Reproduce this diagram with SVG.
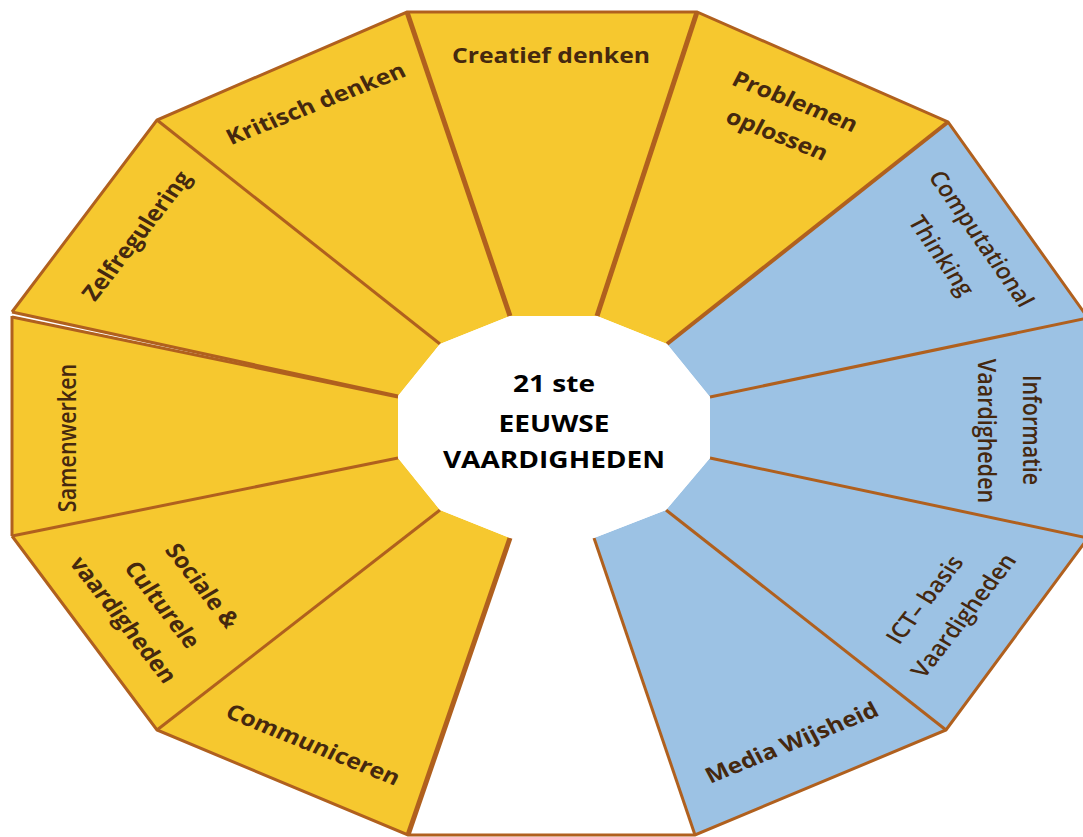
<svg xmlns="http://www.w3.org/2000/svg" width="1083" height="837" viewBox="0 0 1083 837">
  <style>
    .yellow { fill: #F6C82F; stroke: none; }
    .blue { fill: #9CC2E4; stroke: none; }
    .empty { fill: #FFFFFF; stroke: none; }
    .edge { fill: none; stroke: #B0601E; stroke-width: 3; stroke-linejoin: miter; }
    .thick { stroke-width: 5; }
    .label { font-family: "Open Sans", "Noto Sans", "DejaVu Sans", sans-serif; font-size: 21.5px; font-weight: 700; fill: #45280F; text-anchor: middle; }
    .semi { font-weight: 600; }
    .title { font-family: "Open Sans", "Noto Sans", "DejaVu Sans", sans-serif; font-size: 23px; font-weight: 700; fill: #000000; text-anchor: middle; }
  </style>

  <rect width="1083" height="837" fill="#FFFFFF"/>

  <!-- ring segments: outer corner pairs joined to the inner dodecagon -->
  <g id="creatief-denken">
    <polygon class="yellow" points="407,12 697,12 597,316 510,316"/>
    <text class="label" transform="translate(551,63) scale(1.15,1)" x="0" y="0" fill="#5A3511">Creatief denken</text>
  </g>

  <g id="problemen-oplossen">
    <polygon class="yellow" points="697,12 948,122 667,344 597,316"/>
    <text class="label" transform="translate(795,102) scale(1.15,1) rotate(24.4)" x="0" y="7">Problemen</text>
    <text class="label" transform="translate(777,135) scale(1.15,1) rotate(24.4)" x="0" y="7">oplossen</text>
  </g>

  <g id="computational-thinking">
    <polygon class="blue" points="948,122 1088,318 710,397 667,344"/>
    <text class="label semi" transform="translate(981,239) scale(1.15,1) rotate(58.7)" x="0" y="7">Computational</text>
    <text class="label semi" transform="translate(941,256) scale(1.15,1) rotate(58.7)" x="0" y="7">Thinking</text>
  </g>

  <g id="informatie-vaardigheden">
    <polygon class="blue" points="1088,318 1088,538 710,458 710,397"/>
    <text class="label semi" transform="translate(1031,430) scale(1.15,1) rotate(90)" x="0" y="7">Informatie</text>
    <text class="label semi" transform="translate(986,431) scale(1.15,1) rotate(90)" x="0" y="7">Vaardigheden</text>
  </g>

  <g id="ict-basis-vaardigheden">
    <polygon class="blue" points="1088,538 946,730 666,510 710,458"/>
    <text class="label semi" transform="translate(925,600) scale(1.15,1) rotate(-55.8)" x="0" y="7">ICT– basis</text>
    <text class="label semi" transform="translate(964,616) scale(1.15,1) rotate(-55.8)" x="0" y="7">Vaardigheden</text>
  </g>

  <g id="media-wijsheid">
    <polygon class="blue" points="946,730 695,835 594,538 666,510"/>
    <text class="label" transform="translate(792,743) scale(1.15,1) rotate(-24.9)" x="0" y="7">Media Wijsheid</text>
  </g>

  <g id="open-segment">
    <polygon class="empty" points="695,835 408,835 510,538 594,538"/>
  </g>

  <g id="communiceren">
    <polygon class="yellow" points="408,835 157,730 440,510 510,538"/>
    <text class="label" transform="translate(313,745) scale(1.15,1) rotate(24.9)" x="0" y="7">Communiceren</text>
  </g>

  <g id="sociale-culturele-vaardigheden">
    <polygon class="yellow" points="157,730 12,536 398,458 440,510"/>
    <text class="label" transform="translate(202,586) scale(1.15,1) rotate(55.8)" x="0" y="7">Sociale &amp;</text>
    <text class="label" transform="translate(162,605) scale(1.15,1) rotate(55.8)" x="0" y="7">Culturele</text>
    <text class="label" transform="translate(123,620) scale(1.15,1) rotate(55.8)" x="0" y="7">vaardigheden</text>
  </g>

  <g id="samenwerken">
    <polygon class="yellow" points="12,536 12,316 398,396 398,458"/>
    <text class="label semi" transform="translate(68,438) scale(1.15,1) rotate(-90)" x="0" y="7">Samenwerken</text>
  </g>

  <g id="zelfregulering">
    <polygon class="yellow" points="12,312 157,120 440,344 398,396"/>
    <text class="label" transform="translate(137,236) scale(1.15,1) rotate(-55.8)" x="0" y="7">Zelfregulering</text>
  </g>

  <g id="kritisch-denken">
    <polygon class="yellow" points="157,120 407,12 510,316 440,344"/>
    <text class="label" transform="translate(316,104) scale(1.15,1) rotate(-24.4)" x="0" y="7">Kritisch denken</text>
  </g>

  <!-- outline strokes: outer rim and the spokes between segments -->
  <g id="outlines">
    <polyline class="edge" points="12,536 12,316"/>
    <polyline class="edge" points="12,312 157,120 407,12 697,12 948,122 1088,318"/>
    <polyline class="edge" points="1088,538 946,730 695,835 408,835 157,730 12,536"/>
    <line class="edge thick" x1="407" y1="12" x2="510" y2="316"/>
    <line class="edge thick" x1="697" y1="12" x2="597" y2="316"/>
    <line class="edge" x1="948" y1="122" x2="667" y2="344" style="stroke-width:4"/>
    <line class="edge" x1="1088" y1="318" x2="710" y2="397"/>
    <line class="edge" x1="1088" y1="538" x2="710" y2="458"/>
    <line class="edge" x1="946" y1="730" x2="666" y2="510"/>
    <line class="edge" x1="695" y1="835" x2="594" y2="538"/>
    <line class="edge thick" x1="408" y1="835" x2="510" y2="538"/>
    <line class="edge" x1="157" y1="730" x2="440" y2="510"/>
    <line class="edge" x1="12" y1="536" x2="398" y2="458"/>
    <line class="edge" x1="12" y1="312" x2="398" y2="396"/>
    <line class="edge" x1="12" y1="317" x2="398" y2="397"/>
    <line class="edge" x1="157" y1="120" x2="440" y2="344"/>
  </g>

  <g id="centre">
    <polygon fill="#FFFFFF" points="510,316 597,316 667,344 710,397 710,458 666,510 594,538 510,538 440,510 398,458 398,396 440,344"/>
    <text class="title" transform="translate(554,0) scale(1.22,1)" x="0" y="392">21 ste</text>
    <text class="title" transform="translate(554,0) scale(1.22,1)" x="0" y="432">EEUWSE</text>
    <text class="title" transform="translate(554,0) scale(1.22,1)" x="0" y="468">VAARDIGHEDEN</text>
  </g>
</svg>
